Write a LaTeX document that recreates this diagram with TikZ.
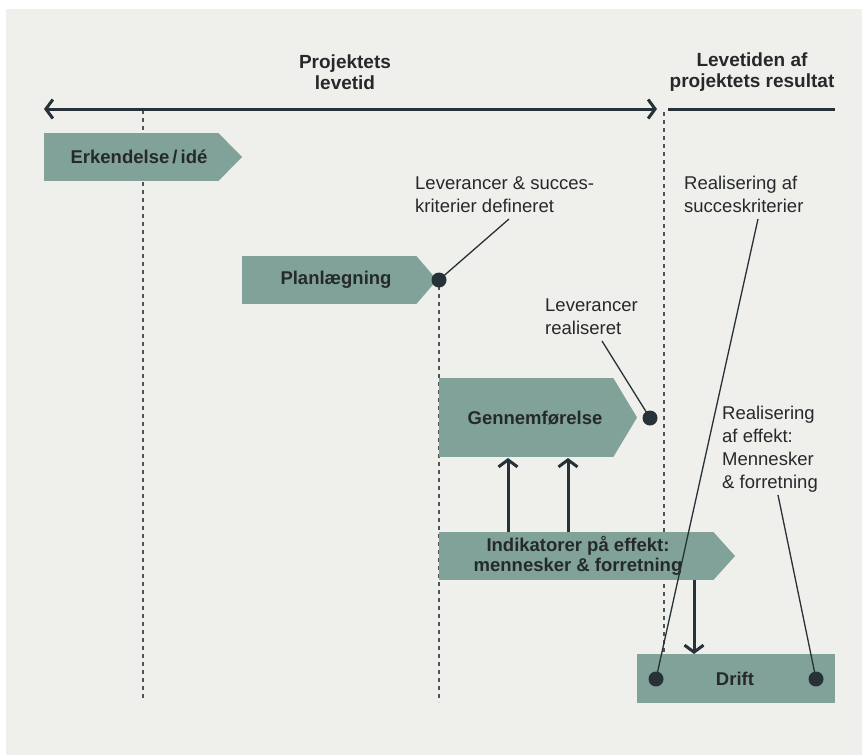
\documentclass[tikz,border=0pt]{standalone}
\usepackage{fontspec}
\setmainfont{Liberation Sans}
\usetikzlibrary{arrows.meta}
\definecolor{bgc}{HTML}{EFEFEB}
\definecolor{boxc}{HTML}{80A298}
\definecolor{inkc}{HTML}{263238}
\definecolor{txtc}{HTML}{26292B}
\definecolor{dashc}{HTML}{4E5459}
\begin{document}
\begin{tikzpicture}[x=1pt,y=-1pt,
  phase/.style={fill=boxc,draw=none,inner sep=0pt},
  lbl/.style={font=\fontsize{18.5}{23}\selectfont,text=txtc,align=left,inner sep=0pt,anchor=north west},
  blbl/.style={font=\bfseries\fontsize{18.5}{20}\selectfont,text=txtc,align=center,inner sep=0pt},
  hdr/.style={font=\bfseries\fontsize{19}{21}\selectfont,text=txtc,align=center,inner sep=0pt},
  vdash/.style={draw=dashc,line width=1.2pt,dash pattern=on 4pt off 4pt},
  lead/.style={draw=inkc,line width=1.3pt},
  dotc/.style={circle,fill=inkc,inner sep=0pt,minimum size=15pt},
  flow/.style={draw=inkc,line width=3pt,-{Straight Barb[length=7pt,width=19pt,line width=3pt]}},
]
\useasboundingbox (0,0) rectangle (862,755);
\fill[bgc] (6,9) rectangle (862,755);

% dashed verticals
\draw[vdash] (143,110) -- (143,700);
\draw[vdash] (439,286) -- (439,702);
\draw[vdash] (664,112) -- (664,654);

% timeline
\coordinate (tl) at (44,109);
\coordinate (tr) at (657,109);
\coordinate (rs) at (668,109);
\coordinate (re) at (835,109);
\draw[inkc,line width=3pt,{Straight Barb[length=7pt,width=19pt,line width=3pt]}-{Straight Barb[length=7pt,width=19pt,line width=3pt]}] (tl) -- (tr);
\draw[inkc,line width=3pt] (rs) -- (re);

\node[hdr] (h1) at (345,72) {Projektets\\levetid};
\node[hdr] (h2) at (752,72) {Levetiden af\\projektets resultat};

% phases
\node[phase,minimum width=174pt,minimum height=48pt] (erk) at (131,157) {};
\fill[boxc] (erk.north east) -- (242,157) -- (erk.south east) -- cycle;
\node[blbl] (erkt) at (139,157) {Erkendelse\,/\,idé};

\node[phase,minimum width=174pt,minimum height=48pt] (plan) at (329,280) {};
\fill[boxc] (plan.north east) -- (437,280) -- (plan.south east) -- cycle;
\node[blbl] (plant) at (336,280) {Planlægning};

\node[phase,minimum width=174pt,minimum height=79pt] (gen) at (526,417.5) {};
\fill[boxc] (gen.north east) -- (637,417.5) -- (gen.south east) -- cycle;
\node[blbl] (gent) at (535,418) {Gennemførelse};

\node[phase,minimum width=274pt,minimum height=48pt] (ind) at (576,556) {};
\fill[boxc] (ind.north east) -- (735,556) -- (ind.south east) -- cycle;
\node[blbl] (indt) at (578,556) {Indikatorer på effekt:\\mennesker \& forretning};

\node[phase,minimum width=198pt,minimum height=49pt] (drift) at (736,678.5) {};
\node[blbl] (driftt) at (735,679) {Drift};

% flow arrows
\coordinate (ia) at (508,532);
\coordinate (ga) at (508,458);
\coordinate (ib) at (568,532);
\coordinate (gb) at (568,458);
\coordinate (ic) at (694,580);
\coordinate (dc) at (694,654);
\draw[flow] (ia) -- (ga);
\draw[flow] (ib) -- (gb);
\draw[flow] (ic) -- (dc);

% labels
\node[lbl] (l1) at (415,176) {Leverancer \& succes-\\kriterier defineret};
\node[lbl] (l2) at (545,299) {Leverancer\\realiseret};
\node[lbl] (l3) at (684,176) {Realisering af\\succeskriterier};
\node[lbl] (l4) at (722,406) {Realisering\\af effekt:\\Mennesker\\\& forretning};

% dots
\node[dotc] (d1) at (439,280) {};
\node[dotc] (d2) at (650,418) {};
\node[dotc] (d3) at (656,679) {};
\node[dotc] (d4) at (816,679) {};

% leader lines
\coordinate (e1) at (509,219);
\coordinate (e2) at (602,341);
\coordinate (e3) at (758,219);
\coordinate (e4) at (778,495);
\draw[lead] (d1.center) -- (e1);
\draw[lead] (d2.center) -- (e2);
\draw[lead] (d3.center) -- (e3);
\draw[lead] (d4.center) -- (e4);
\end{tikzpicture}
\end{document}
